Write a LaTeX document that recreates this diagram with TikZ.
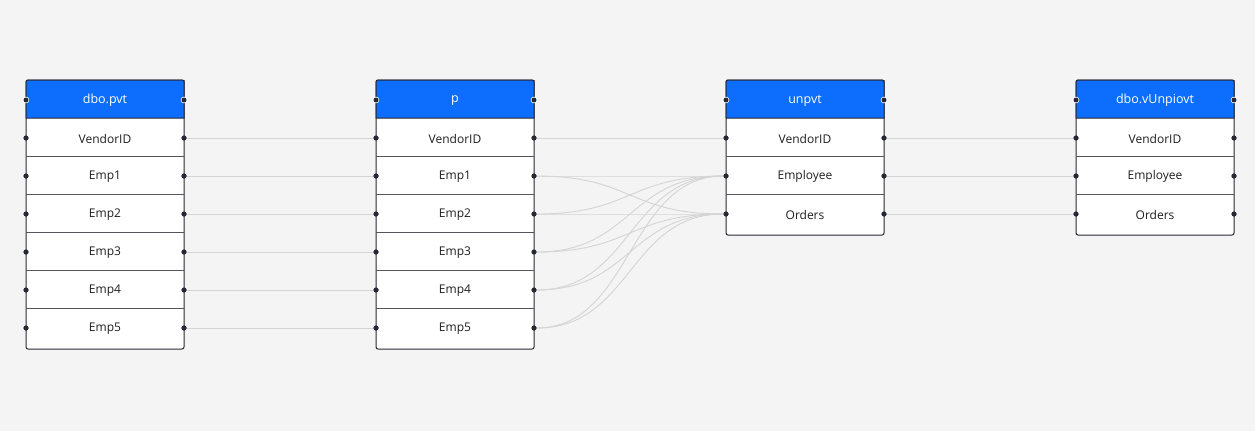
\documentclass[tikz,border=0pt]{standalone}
\usepackage{fontspec}
\setmainfont{Open Sans}
\definecolor{bg}{RGB}{244,244,244}
\definecolor{hdr}{RGB}{13,110,253}
\definecolor{bord}{RGB}{40,40,52}
\definecolor{sep}{RGB}{85,85,95}
\definecolor{link}{RGB}{212,212,212}
\tikzset{
  tbl/.style={draw=bord, line width=1pt, fill=white, rounded corners=2pt},
  hdrbox/.style={draw=bord, line width=1pt, fill=hdr, rounded corners=2pt},
  rowtext/.style={font=\fontsize{12}{14}\selectfont, text=black!88},
  hdrtext/.style={font=\fontsize{12.5}{14}\selectfont, text=white},
  dot/.style={circle, fill=bord, inner sep=0pt, minimum size=5pt},
  lnk/.style={draw=link, line width=0.9pt},
}
\newcommand{\mktable}[4]{% #1 name prefix, #2 left x, #3 title, #4 list of rows
  \pgfmathsetmacro{\xl}{#2}
  \pgfmathsetmacro{\xr}{#2+158}
  \pgfmathsetmacro{\xc}{#2+79}
  \gdef\nrows{0}
  \foreach \r [count=\i] in {#4} {\xdef\nrows{\i}}
  \pgfmathsetmacro{\ybot}{118+38*\nrows+3}
  \draw[tbl] (\xl,80) rectangle (\xr,\ybot);
  \draw[hdrbox,rounded corners=0pt] (\xl,118) -- (\xl,82) [rounded corners=2pt] -- (\xl,80) -- (\xr,80) -- (\xr,82)[rounded corners=0pt] -- (\xr,118) -- cycle;
  \node[hdrtext] (#1-h) at (\xc,100.5) {#3};
  \fill[white] (\xl,100) circle (3.3pt) (\xr,100) circle (3.3pt);
  \node[dot] (#1-hl) at (\xl,100) {};
  \node[dot] (#1-hr) at (\xr,100) {};
  \foreach \r [count=\i] in {#4} {
    \pgfmathsetmacro{\yc}{100+38*\i}
    \pgfmathsetmacro{\yt}{80+38*\i}
    \ifnum\i>1 \draw[draw=sep, line width=1pt] (\xl,\yt) -- (\xr,\yt);\fi
    \node[rowtext] (#1-t\i) at (\xc,\yc+0.8) {\r};
    \node[dot] (#1-l\i) at (\xl,\yc) {};
    \node[dot] (#1-r\i) at (\xr,\yc) {};
  }
}
\begin{document}
\begin{tikzpicture}[x=1pt,y=-1pt]
\fill[bg] (0,0) rectangle (1255,431);
\useasboundingbox (0,0) rectangle (1255,431);
\mktable{a}{26}{dbo.pvt}{VendorID,Emp1,Emp2,Emp3,Emp4,Emp5}
\mktable{b}{376}{p}{VendorID,Emp1,Emp2,Emp3,Emp4,Emp5}
\mktable{c}{726}{unpvt}{VendorID,Employee,Orders}
\mktable{d}{1076}{dbo.vUnpiovt}{VendorID,Employee,Orders}
% links
\foreach \i in {1,...,6} {
  \draw[lnk] (a-r\i.east) -- (b-l\i.west);
}
\draw[lnk] (b-r1.east) -- (c-l1.west);
\foreach \i in {2,...,6} {
  \foreach \j in {2,3} {
    \draw[lnk] (b-r\i.east) .. controls +(95,0) and +(-95,0) .. (c-l\j.west);
  }
}
\foreach \i in {1,2,3} {
  \draw[lnk] (c-r\i.east) -- (d-l\i.west);
}
% redraw dots on top
\foreach \t/\n in {a/6,b/6,c/3,d/3} {
  \foreach \i in {1,...,\n} {
    \fill[bord] (\t-l\i) circle (2.5pt);
    \fill[bord] (\t-r\i) circle (2.5pt);
  }
}
\end{tikzpicture}
\end{document}
